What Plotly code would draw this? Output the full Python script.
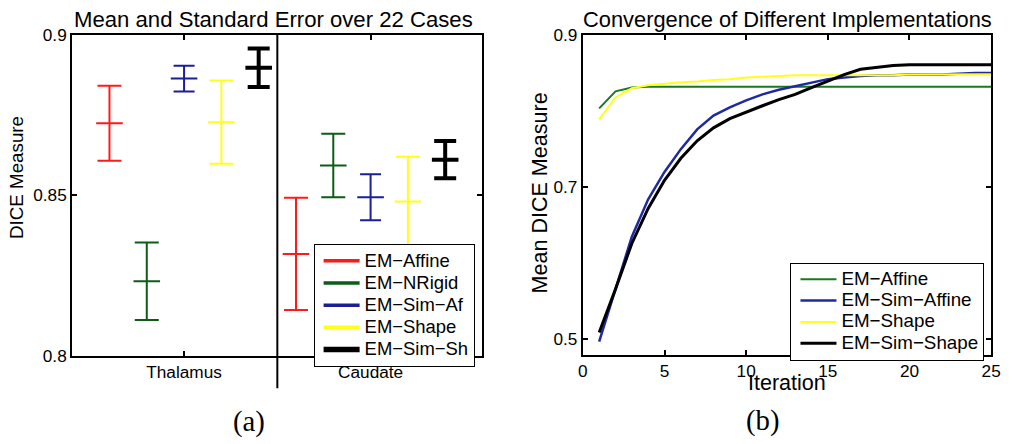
import plotly.graph_objects as go

# ---------------- (a) mean and standard error per structure ----------------
structures = ["Thalamus", "Caudate"]
methods_a = ["EM−Affine", "EM−NRigid", "EM−Sim−Af", "EM−Shape", "EM−Sim−Sh"]
mean_thalamus = [0.8725, 0.8232, 0.8864, 0.8728, 0.8898]
mean_caudate = [0.8317, 0.8593, 0.8494, 0.8481, 0.8611]
se_thalamus = [0.0117, 0.0121, 0.0040, 0.0130, 0.0060]
se_caudate = [0.0175, 0.0099, 0.0072, 0.0139, 0.0058]

# ---------------- (b) convergence over iterations ----------------
iterations = list(range(1, 26))
methods_b = ["EM−Affine", "EM−Sim−Affine", "EM−Shape", "EM−Sim−Shape"]
dice_em_affine = [0.8035, 0.826, 0.831, 0.832, 0.832, 0.832, 0.832, 0.832, 0.832, 0.832,
                  0.832, 0.832, 0.832, 0.832, 0.832, 0.832, 0.832, 0.832, 0.832, 0.832,
                  0.832, 0.832, 0.832, 0.832, 0.832]
dice_em_sim_affine = [0.497, 0.565, 0.635, 0.684, 0.720, 0.750, 0.776, 0.794, 0.805, 0.814,
                      0.822, 0.828, 0.833, 0.838, 0.842, 0.844, 0.846, 0.847, 0.847, 0.848,
                      0.848, 0.848, 0.849, 0.850, 0.850]
dice_em_shape = [0.789, 0.818, 0.830, 0.834, 0.836, 0.838, 0.839, 0.841, 0.842, 0.844,
                 0.845, 0.846, 0.847, 0.847, 0.847, 0.847, 0.847, 0.847, 0.847, 0.848,
                 0.848, 0.848, 0.848, 0.8485, 0.8485]
dice_em_sim_shape = [0.509, 0.566, 0.626, 0.672, 0.709, 0.738, 0.761, 0.778, 0.790, 0.799,
                     0.807, 0.815, 0.822, 0.831, 0.840, 0.848, 0.855, 0.858, 0.860, 0.861,
                     0.861, 0.861, 0.861, 0.861, 0.861]

# styling
colors_a = ["#ff1a1a", "#0d5c16", "#1a1f96", "#ffff1a", "#000000"]
widths_a = [2, 2, 2, 2, 4]
cap_half = [12, 12, 10.5, 12, 11]
group_offsets = [-0.4, -0.2, 0.0, 0.2, 0.4]
colors_b = ["#177a1f", "#1f2aa0", "#ffff1a", "#000000"]
widths_b = [2, 2.5, 2, 3]

FONT = "Liberation Sans, Arial, Helvetica, sans-serif"
SERIF = "Liberation Serif, Times New Roman, serif"

# Figure size and the page frame it ends up in: the html body keeps its 8px
# margins and the page is fit back into 1012x444, so frame pixels are mapped
# to figure pixels below (horizontally kept so the last tick label still fits).
W, H = 1012, 444
BODY = 8
SX = 1012 / (W + 2 * BODY)
SY = 444 / (H + 2 * BODY)
X_LEFT, X_RIGHT = 75, 1000           # frame pixels of the outer plot edges
FIG_LEFT = X_LEFT / SX - BODY        # figure pixel of the left edge
FIG_RIGHT = 1001                     # right edge, leaving room for the "25" label
AX = (FIG_RIGHT - FIG_LEFT) / (X_RIGHT - X_LEFT)
BX = FIG_LEFT - AX * X_LEFT


def fx(px):
    """frame x pixel -> paper fraction"""
    return (AX * px + BX) / W


def fy(py):
    """frame y pixel (from top) -> paper fraction"""
    return 1 - (py / SY - BODY) / H


def fs(size):
    """font size that shows at about `size` px in the frame"""
    return size / ((SX + SY) / 2)


def legend_label(text, px):
    return f'<span style="font-size:{fs(px):.2f}px">{text}</span>'


fig = go.Figure()

for i, name in enumerate(methods_a):
    xs = [k + 1 + group_offsets[i] for k in range(len(structures))]
    fig.add_trace(go.Scatter(
        x=xs, y=[mean_thalamus[i], mean_caudate[i]],
        mode="markers", showlegend=False, name=name,
        marker=dict(symbol="line-ew", size=19, color=colors_a[i],
                    line=dict(color=colors_a[i], width=widths_a[i])),
        error_y=dict(type="data", array=[se_thalamus[i], se_caudate[i]],
                     color=colors_a[i], thickness=widths_a[i], width=cap_half[i]),
        xaxis="x", yaxis="y",
    ))
    # legend entry drawn as a line sample
    fig.add_trace(go.Scatter(
        x=[None], y=[None], mode="lines", name=legend_label(name, 18),
        legend="legend",
        line=dict(color=colors_a[i], width=widths_a[i] + 1.5),
        xaxis="x", yaxis="y",
    ))

series_b = [dice_em_affine, dice_em_sim_affine, dice_em_shape, dice_em_sim_shape]
for i, name in enumerate(methods_b):
    fig.add_trace(go.Scatter(
        x=iterations, y=series_b[i], mode="lines", name=legend_label(name, 18.3),
        legend="legend2",
        line=dict(color=colors_b[i], width=widths_b[i]),
        xaxis="x2", yaxis="y2",
    ))

axis_common = dict(showline=True, linewidth=2, linecolor="black", mirror="ticks",
                   ticks="inside", ticklen=5, tickwidth=2, tickcolor="black",
                   showgrid=False, zeroline=False,
                   tickfont=dict(family=FONT, size=fs(16.8), color="black"))


def label(text, x, y, size, family=FONT, angle=0):
    return dict(text=text, x=fx(x), y=fy(y), xref="paper", yref="paper",
                xanchor="center", yanchor="middle", showarrow=False,
                textangle=angle, font=dict(family=family, size=fs(size), color="black"))


legend_common = dict(xanchor="left", yanchor="top", bgcolor="white",
                     bordercolor="black", borderwidth=1, tracegroupgap=0,
                     indentation=4, itemwidth=36)

# legend row pitch is 1.3 * font size + 3 px; pick sizes giving 21.4 / 20.6 px rows
row_a = (21.4 / SY - 3) / 1.3
row_b = (20.6 / SY - 3) / 1.3

fig.update_layout(
    width=W, height=H,
    margin=dict(l=0, r=0, t=0, b=0),
    paper_bgcolor="white", plot_bgcolor="white",
    font=dict(family=FONT, color="black"),
    xaxis=dict(domain=[fx(75), fx(488)], range=[0.4, 2.6],
               tickvals=[1, 2], ticktext=structures, anchor="y", **axis_common),
    yaxis=dict(domain=[fy(357), fy(33)], range=[0.8, 0.9],
               tickvals=[0.8, 0.85, 0.9], ticktext=["0.8", "0.85", "0.9"],
               anchor="x", **axis_common),
    xaxis2=dict(domain=[fx(589), fx(1000)], range=[0, 25],
                tickvals=[0, 5, 10, 15, 20, 25], anchor="y2", **axis_common),
    yaxis2=dict(domain=[fy(356), fy(33)], range=[0.48, 0.9],
                tickvals=[0.5, 0.7, 0.9], ticktext=["0.5", "0.7", "0.9"],
                anchor="x2", **axis_common),
    legend=dict(x=fx(318), y=fy(244),
                font=dict(family=FONT, size=row_a, color="black"), **legend_common),
    legend2=dict(x=fx(798), y=fy(263),
                 font=dict(family=FONT, size=row_b, color="black"), **legend_common),
    shapes=[dict(type="line", xref="x", yref="paper", x0=1.5, x1=1.5,
                 y0=fy(390), y1=fy(33),
                 line=dict(color="black", width=2))],
    annotations=[
        label("Mean and Standard Error over 22 Cases", 278, 17, 21.6),
        label("Convergence of Different Implementations", 795, 17, 21.3),
        label("DICE Measure", 19, 177, 18.3, angle=-90),
        label("Mean DICE Measure", 546, 193, 21, angle=-90),
        label("Iteration", 795, 385, 21),
        label("(a)", 253, 424, 28, family=SERIF),
        label("(b)", 770, 423, 28, family=SERIF),
    ],
)

fig.write_html("out.html")
